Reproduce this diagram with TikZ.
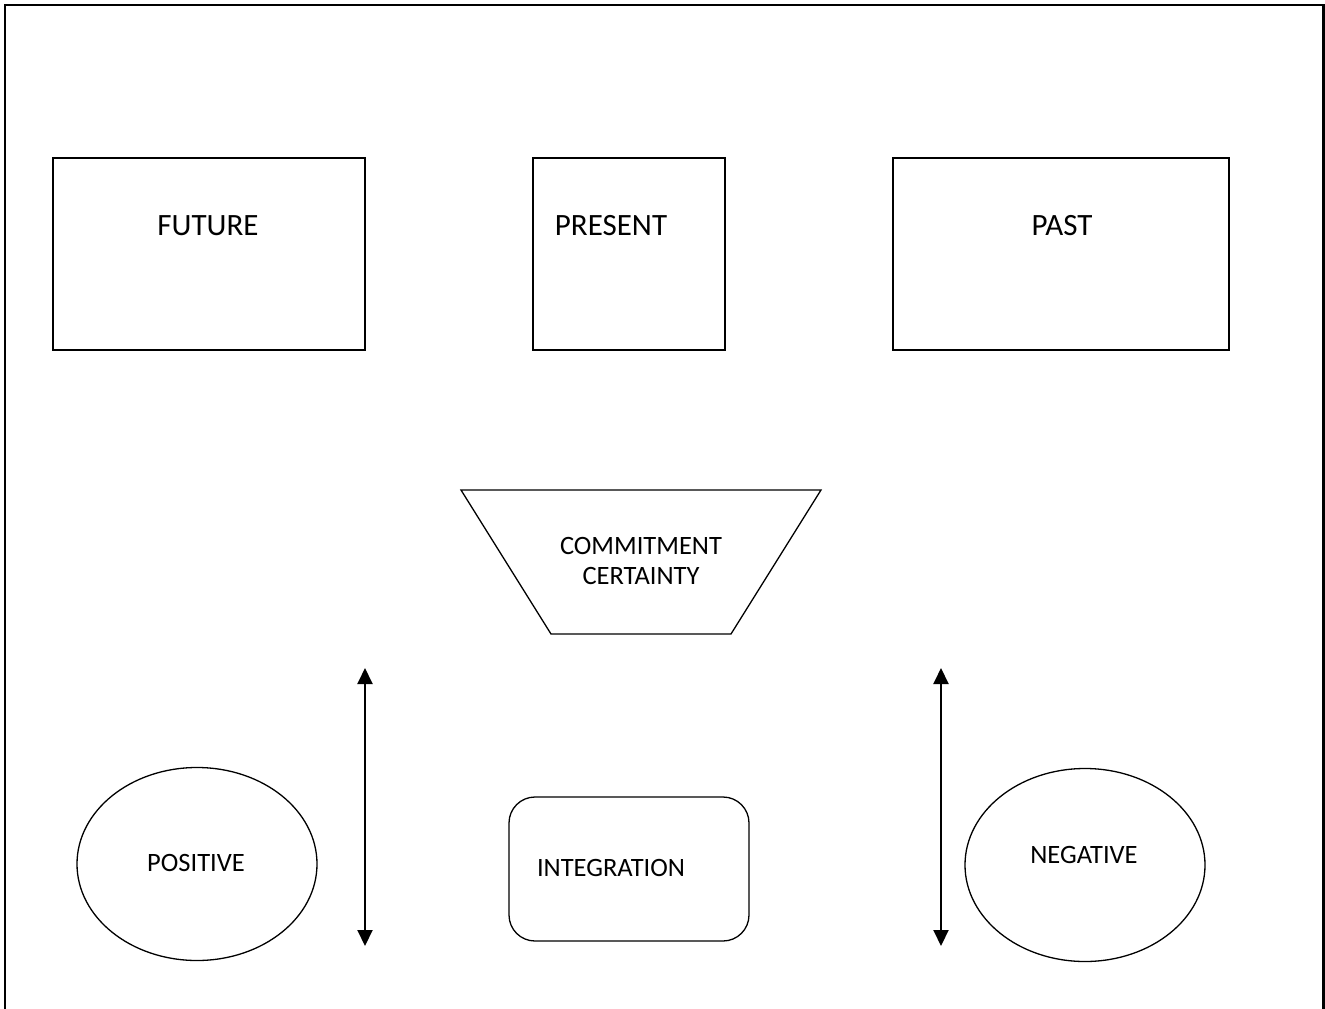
\documentclass[tikz,border=0pt]{standalone}
\usepackage{fontspec}
\setmainfont{Carlito}
\usetikzlibrary{arrows.meta,shapes.geometric}
\begin{document}
\begin{tikzpicture}[x=1pt,y=-1pt,
  shapeline/.style={draw=black,line width=1.3pt},
  boxnode/.style={shapeline,rectangle,inner sep=0pt},
  bigtext/.style={font=\fontsize{31}{37}\selectfont,inner sep=0pt},
  smalltext/.style={font=\fontsize{26.5}{31}\selectfont,inner sep=0pt},
  ovalnode/.style={shapeline,ellipse,inner sep=0pt,minimum width=240pt,minimum height=193pt},
  twoway/.style={line width=2pt,{Triangle[width=15pt,length=16pt]}-{Triangle[width=15pt,length=16pt]}}
]
\useasboundingbox (0,0) rectangle (1325,1009);
% frame (open at bottom)
\draw[line width=2.2pt] (5,1009) -- (5,5) -- (1323.5,5) -- (1323.5,1009);

% time boxes
\node[boxnode,minimum width=312pt,minimum height=192pt] (future) at (209,254) {};
\node[boxnode,minimum width=192pt,minimum height=192pt] (present) at (629,254) {};
\node[boxnode,minimum width=336pt,minimum height=192pt] (past) at (1061,254) {};
\node[bigtext] (futuretxt) at (208,226) {FUTURE};
\node[bigtext] (presenttxt) at (611,226) {PRESENT};
\node[bigtext] (pasttxt) at (1062,226) {PAST};

% trapezoid
\coordinate (tl) at (461,490);
\coordinate (tr) at (821,490);
\coordinate (br) at (731,634);
\coordinate (bl) at (551,634);
\draw[shapeline,line join=miter] (tl) -- (tr) -- (br) -- (bl) -- cycle;
\node[smalltext,align=center] (commit) at (641,561) {COMMITMENT\\[-1pt]CERTAINTY};

% arrows
\coordinate (a1t) at (365,668);
\coordinate (a1b) at (365,946);
\coordinate (a2t) at (941,668);
\coordinate (a2b) at (941,946);
\draw[twoway] (a1t) -- (a1b);
\draw[twoway] (a2t) -- (a2b);

% bottom shapes
\node[ovalnode] (positive) at (197,864) {};
\node[smalltext] (postxt) at (196,863) {POSITIVE};
\node[boxnode,rounded corners=26pt,minimum width=240pt,minimum height=144pt] (integ) at (629,869) {};
\node[smalltext] (integtxt) at (611,868) {INTEGRATION};
\node[ovalnode] (negative) at (1085,865) {};
\node[smalltext] (negtxt) at (1084,855) {NEGATIVE};
\end{tikzpicture}
\end{document}
